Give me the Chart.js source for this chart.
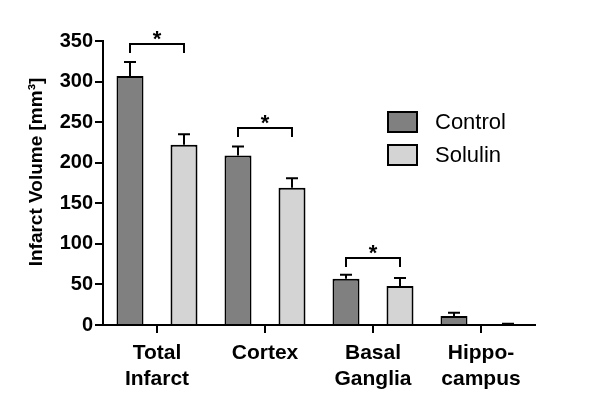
<!DOCTYPE html>
<html>
<head>
<meta charset="utf-8">
<script src="https://cdn.jsdelivr.net/npm/chart.js"></script>
<style>
  body { margin: 0; background: #fff; }
</style>
</head>
<body>
<canvas id="myChart" width="600" height="412"></canvas>
<script>
// data
const categories = [['Total', 'Infarct'], 'Cortex', ['Basal', 'Ganglia'], ['Hippo-', 'campus']];
const controlMeans = [307, 209, 57, 11];
const controlErr = [17, 11, 5, 4];
const solulinMeans = [222, 169, 48, 1];
const solulinErr = [13, 12, 10, 0.5];
const starCats = [0, 1, 2];
const starLevels = [346, 243, 82];
const yTicks = [0, 50, 100, 150, 200, 250, 300, 350];
const yTitle = 'Infarct Volume [mm³]';

const FONT = '"Liberation Sans", Arial, sans-serif';
const ctx = document.getElementById('myChart').getContext('2d');

// error bars (upper only), significance brackets, legend and y title
const extras = {
  id: 'extras',
  afterDatasetsDraw(chart) {
    const c = chart.ctx;
    const y = chart.scales.y;
    const errs = [controlErr, solulinErr];
    c.save();
    c.strokeStyle = '#000';
    c.lineWidth = 2;
    chart.data.datasets.forEach((ds, d) => {
      chart.getDatasetMeta(d).data.forEach((bar, i) => {
        const top = y.getPixelForValue(ds.data[i] + errs[d][i]);
        c.beginPath();
        c.moveTo(bar.x, bar.y);
        c.lineTo(bar.x, top);
        c.moveTo(bar.x - 6, top);
        c.lineTo(bar.x + 6, top);
        c.stroke();
      });
    });

    c.fillStyle = '#000';
    c.font = 'bold 22px ' + FONT;
    c.textAlign = 'center';
    c.textBaseline = 'alphabetic';
    starCats.forEach((cat, k) => {
      const x1 = chart.getDatasetMeta(0).data[cat].x;
      const x2 = chart.getDatasetMeta(1).data[cat].x;
      const py = Math.round(y.getPixelForValue(starLevels[k]));
      c.beginPath();
      c.moveTo(x1, py + 9);
      c.lineTo(x1, py);
      c.lineTo(x2, py);
      c.lineTo(x2, py + 9);
      c.stroke();
      c.fillText('*', (x1 + x2) / 2, py + 2);
    });

    // legend
    c.font = '22px ' + FONT;
    c.textAlign = 'left';
    c.textBaseline = 'middle';
    chart.data.datasets.forEach((ds, d) => {
      const by = 112 + d * 33;
      c.fillStyle = ds.backgroundColor;
      c.fillRect(388, by, 29, 20);
      c.strokeRect(388, by, 29, 20);
      c.fillStyle = '#000';
      c.fillText(ds.label, 435, by + 11);
    });

    // y axis title, a bit above the middle like the original
    c.translate(37, 172);
    c.rotate(-Math.PI / 2);
    c.font = 'bold 19px ' + FONT;
    c.textAlign = 'center';
    c.fillText(yTitle, 0, 0);
    c.restore();
  }
};

function makeDataset(label, data, color) {
  return {
    label,
    data,
    backgroundColor: color,
    borderColor: '#000',
    borderWidth: 2,
    categoryPercentage: 1.0,
    barPercentage: 0.5,
  };
}

new Chart(ctx, {
  type: 'bar',
  data: {
    labels: categories,
    datasets: [
      makeDataset('Control', controlMeans, '#808080'),
      makeDataset('Solulin', solulinMeans, '#d4d4d4'),
    ],
  },
  plugins: [extras],
  options: {
    responsive: false,
    animation: false,
    devicePixelRatio: 1,
    layout: { padding: { top: 41, right: 65, left: 0, bottom: 0 } },
    plugins: {
      legend: { display: false },
      tooltip: { enabled: false },
    },
    scales: {
      x: {
        afterFit: s => { s.height = 87; },
        grid: { offset: false, drawOnChartArea: false, tickLength: 8, color: '#000', lineWidth: 2 },
        border: { color: '#000', width: 2 },
        ticks: {
          color: '#000',
          padding: 8,
          font: { family: FONT, size: 21, weight: 'bold', lineHeight: 1.2 },
        },
      },
      y: {
        min: 0,
        max: 350,
        afterFit: s => { s.width = 103; },
        afterBuildTicks: s => { s.ticks = yTicks.map(v => ({ value: v })); },
        grid: { drawOnChartArea: false, tickLength: 8, color: '#000', lineWidth: 2 },
        border: { color: '#000', width: 2 },
        ticks: {
          color: '#000',
          padding: 2,
          font: { family: FONT, size: 20, weight: 'bold' },
        },
      },
    },
  },
});
</script>
</body>
</html>
